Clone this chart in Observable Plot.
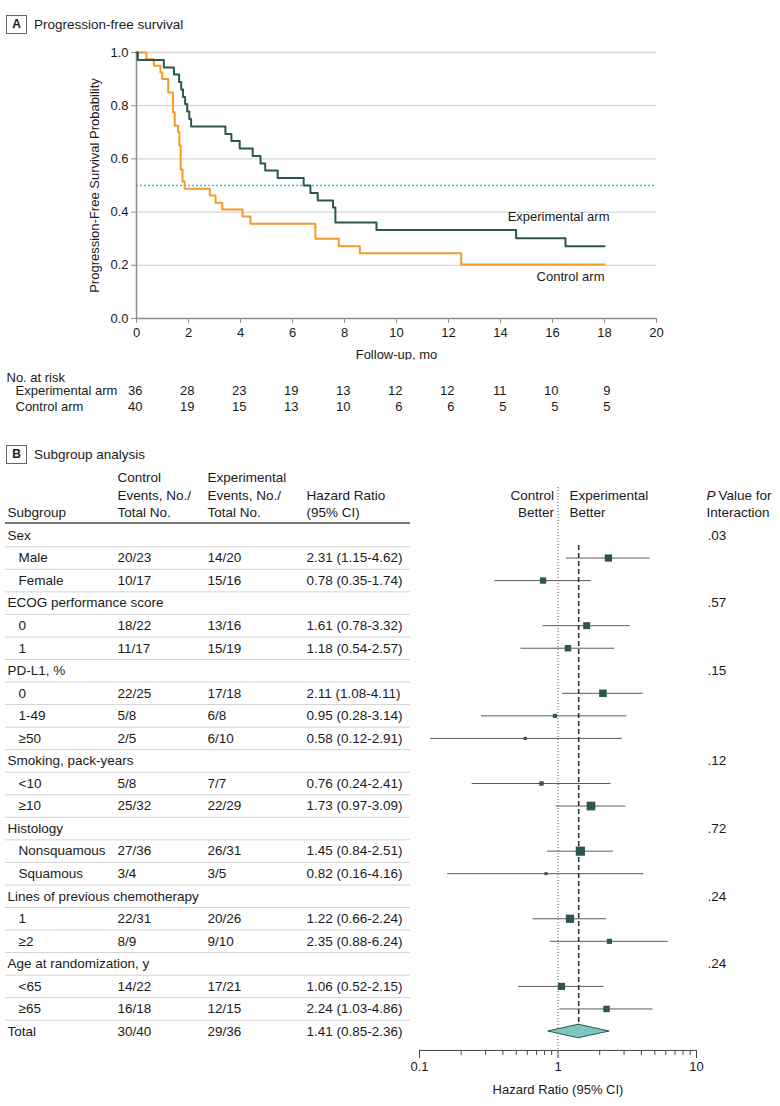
<!DOCTYPE html>
<html><head><meta charset="utf-8">
<script src="https://cdn.jsdelivr.net/npm/d3@7"></script>
<script src="https://cdn.jsdelivr.net/npm/@observablehq/plot@0.6"></script>
<style>
body{margin:0;background:#fff;font-family:"Liberation Sans",Arial,sans-serif;color:#1a1a1a}
#wrap{position:relative;width:780px;height:1106px;overflow:hidden}
.box{position:absolute;width:19px;height:17px;border:1px solid #666;font-weight:bold;font-size:12px;text-align:center;line-height:17px}
.ptitle{position:absolute;font-size:13.5px;line-height:18px}
.pl{position:absolute;left:0}
</style></head><body><div id="wrap">
<div class="box" style="left:6px;top:15px">A</div>
<div class="ptitle" style="left:34px;top:16px">Progression-free survival</div>
<div class="box" style="left:6px;top:445px">B</div>
<div class="ptitle" style="left:34px;top:446px">Subgroup analysis</div>
<div id="pa" class="pl" style="top:0"></div>
<div id="pr" class="pl" style="top:355px"></div>
<div id="pb" class="pl" style="top:440px"></div>
</div>
<script>
// ---------- Panel A data ----------
const expTime = [0, 0.05, 1.05, 1.44, 1.64, 1.72, 1.79, 1.87, 1.95, 2.03, 2.10, 3.42, 3.65, 3.97, 4.47, 4.77, 4.95, 5.43, 6.43, 6.69, 6.97, 7.56, 7.65, 9.23, 14.6, 16.5, 18];
const expSurv = [1, .972, .944, .917, .889, .861, .833, .806, .778, .750, .722, .694, .667, .639, .611, .583, .556, .528, .500, .472, .444, .417, .361, .333, .302, .272, .272];
const ctrlTime = [0, 0.38, 0.67, 0.92, 0.99, 1.22, 1.40, 1.47, 1.60, 1.65, 1.70, 1.77, 1.85, 2.82, 3.04, 3.30, 4.08, 4.38, 6.88, 7.78, 8.59, 12.49, 18];
const ctrlSurv = [1, .975, .95, .925, .90, .85, .775, .725, .70, .65, .56, .515, .488, .462, .435, .41, .383, .356, .30, .272, .245, .203, .203];
const medianLine = 0.5;
const xTicks = [0, 2, 4, 6, 8, 10, 12, 14, 16, 18, 20];
const yTicks = [0, 0.2, 0.4, 0.6, 0.8, 1.0];
const arms = ["Experimental arm", "Control arm"];
const riskTime = [0, 2, 4, 6, 8, 10, 12, 14, 16, 18];
const riskExp = [36, 28, 23, 19, 13, 12, 12, 11, 10, 9];
const riskCtrl = [40, 19, 15, 13, 10, 6, 6, 5, 5, 5];

// ---------- Panel B data ----------
const rowLabel = ["Sex","Male","Female","ECOG performance score","0","1","PD-L1, %","0","1-49","≥50","Smoking, pack-years","<10","≥10","Histology","Nonsquamous","Squamous","Lines of previous chemotherapy","1","≥2","Age at randomization, y","<65","≥65","Total"];
const rowIsSub = [0,1,1,0,1,1,0,1,1,1,0,1,1,0,1,1,0,1,1,0,1,1,0];
const ctrlEvents = ["","20/23","10/17","","18/22","11/17","","22/25","5/8","2/5","","5/8","25/32","","27/36","3/4","","22/31","8/9","","14/22","16/18","30/40"];
const expEvents = ["","14/20","15/16","","13/16","15/19","","17/18","6/8","6/10","","7/7","22/29","","26/31","3/5","","20/26","9/10","","17/21","12/15","29/36"];
const hr = [null,2.31,0.78,null,1.61,1.18,null,2.11,0.95,0.58,null,0.76,1.73,null,1.45,0.82,null,1.22,2.35,null,1.06,2.24,1.41];
const hrLo = [null,1.15,0.35,null,0.78,0.54,null,1.08,0.28,0.12,null,0.24,0.97,null,0.84,0.16,null,0.66,0.88,null,0.52,1.03,0.85];
const hrHi = [null,4.62,1.74,null,3.32,2.57,null,4.11,3.14,2.91,null,2.41,3.09,null,2.51,4.16,null,2.24,6.24,null,2.15,4.86,2.36];
const pInter = [".03","","",".57","","",".15","","","",".12","","",".72","","",".24","","",".24","","",""];
const hrMajorTicks = [0.1, 1, 10];
const hrMinorTicks = [0.2,0.3,0.4,0.5,0.6,0.7,0.8,0.9,2,3,4,5,6,7,8,9];

const FONT = '"Liberation Sans", Arial, sans-serif';
const TEAL = "#2b5753", ORANGE = "#f39a2b", INK = "#1a1a1a";

// ---------- Panel A ----------
const expData = expTime.map((t, i) => ({t, s: expSurv[i]}));
const ctrlData = ctrlTime.map((t, i) => ({t, s: ctrlSurv[i]}));
const pa = Plot.plot({
  width: 780, height: 360, marginTop: 52, marginBottom: 42, marginLeft: 136, marginRight: 124,
  style: {fontFamily: FONT, fontSize: "13px", color: INK, background: "transparent"},
  x: {domain: [0, 20]},
  y: {domain: [0, 1]},
  marks: [
    Plot.ruleY(yTicks.filter(d => d > 0), {stroke: "#d6d6d6", strokeWidth: 1.3}),
    Plot.ruleY([medianLine], {stroke: "#22cde0", strokeDasharray: "2,2", strokeWidth: 1.4}),
    Plot.ruleX([0], {stroke: "#8c8c8c", strokeWidth: 1.5}),
    Plot.ruleY([0], {stroke: "#8c8c8c", strokeWidth: 1.5}),
    Plot.axisY({ticks: yTicks, tickFormat: d3.format(".1f"), tickSize: 5, tickPadding: 3, stroke: "#8c8c8c", fontSize: 13, fill: INK,
      label: "Progression-Free Survival Probability", labelAnchor: "center", labelOffset: 47, labelArrow: false}),
    Plot.axisX({ticks: xTicks, tickSize: 5, tickPadding: 4, stroke: "#8c8c8c", fontSize: 13, fill: INK,
      label: "Follow-up, mo", labelAnchor: "center", labelOffset: 40, labelArrow: false}),
    Plot.line(ctrlData, {x: "t", y: "s", curve: "step-after", stroke: ORANGE, strokeWidth: 2}),
    Plot.line(expData, {x: "t", y: "s", curve: "step-after", stroke: TEAL, strokeWidth: 2}),
    Plot.text([expData[expData.length - 1]], {x: "t", y: "s", text: () => arms[0], textAnchor: "end", dx: 5, dy: -29, fontSize: 13, fill: INK}),
    Plot.text([ctrlData[ctrlData.length - 1]], {x: "t", y: "s", text: () => arms[1], textAnchor: "end", dx: 0, dy: 12, fontSize: 13, fill: INK})
  ]
});
document.getElementById("pa").appendChild(pa);

// ---------- Number at risk ----------
const riskData = riskTime.map((t, i) => ({t, arm: arms[0], n: riskExp[i]}))
  .concat(riskTime.map((t, i) => ({t, arm: arms[1], n: riskCtrl[i]})));
const pr = Plot.plot({
  width: 780, height: 60, marginLeft: 136, marginRight: 124, marginTop: 0, marginBottom: 0,
  style: {fontFamily: FONT, fontSize: "13px", color: INK, background: "transparent"},
  x: {domain: [0, 20], axis: null},
  y: {type: "point", domain: arms, range: [35, 51], padding: 0, axis: null},
  marks: [
    Plot.text(riskData, {x: "t", y: "arm", text: "n", textAnchor: "end", dx: 6, fontSize: 13, fill: INK}),
    Plot.text(arms, {y: d => d, text: d => d, frameAnchor: "left", textAnchor: "start", dx: -121, fontSize: 13, fill: INK}),
    Plot.text(["No. at risk"], {frameAnchor: "top-left", textAnchor: "start", dx: -130, dy: 17, fontSize: 13, fill: INK})
  ]
});
document.getElementById("pr").appendChild(pr);

// ---------- Panel B ----------
const rows = rowLabel.map((label, i) => ({
  i, label, sub: rowIsSub[i], c: ctrlEvents[i], e: expEvents[i], hr: hr[i], lo: hrLo[i], hi: hrHi[i], p: pInter[i],
  hrText: hr[i] == null ? "" : `${hr[i].toFixed(2)} (${hrLo[i].toFixed(2)}-${hrHi[i].toFixed(2)})`,
  w: hr[i] == null ? 0 : 1 / Math.pow(Math.log(hrHi[i] / hrLo[i]) / 3.92, 2)
}));
const nRows = rows.length;
const totalIdx = nRows - 1;
const est = rows.filter(d => d.hr != null && d.i !== totalIdx);
const tot = rows[totalIdx];
const maxW = d3.max(est, d => d.w);
const diamond = [
  {y: totalIdx - 0.3, x1: tot.hr, x2: tot.hr},
  {y: totalIdx, x1: tot.lo, x2: tot.hi},
  {y: totalIdx + 0.3, x1: tot.hr, x2: tot.hr}
];
const H1 = -2.573, H2 = -1.774, H3 = -1.02;
const L = 419; // frame left edge (page px) used for column offsets
const txt = (data, opts) => Plot.text(data, {fontSize: 13.5, fill: INK, textAnchor: "start", ...opts});
const head = (lines, xOff) => txt(lines.map((t, k) => ({t, y: [H1, H2, H3][3 - lines.length + k]})), {y: "y", text: "t", frameAnchor: "left", dx: xOff - L});

const pb = Plot.plot({
  width: 780, height: 666, marginLeft: 419, marginRight: 84, marginTop: 10, marginBottom: 56,
  style: {fontFamily: FONT, fontSize: "13px", color: INK, background: "transparent"},
  x: {type: "log", domain: [0.1, 10]},
  y: {domain: [0, nRows - 1], range: [95, 591], axis: null},
  r: {domain: [0, maxW], range: [0, 5.2]},
  marks: [
    // table headers
    head(["Subgroup"], 7),
    head(["Control", "Events, No./", "Total No."], 117),
    head(["Experimental", "Events, No./", "Total No."], 207),
    head(["Hazard Ratio", "(95% CI)"], 306),
    Plot.text(["Control", "Better"], {x: () => 1, y: (d, k) => [H2, H3][k], text: d => d, textAnchor: "end", dx: -4, fontSize: 13.5, fill: INK}),
    Plot.text(["Experimental", "Better"], {x: () => 1, y: (d, k) => [H2, H3][k], text: d => d, textAnchor: "start", dx: 11.5, fontSize: 13.5, fill: INK}),
    Plot.text(["P"], {y: () => H2, text: d => d, frameAnchor: "right", textAnchor: "start", dx: 10, fontSize: 13.5, fontStyle: "italic", fill: INK}),
    Plot.text(["Value for"], {y: () => H2, text: d => d, frameAnchor: "right", textAnchor: "start", dx: 22, fontSize: 13.5, fill: INK}),
    Plot.text(["Interaction"], {y: () => H3, text: d => d, frameAnchor: "right", textAnchor: "start", dx: 10, fontSize: 13.5, fill: INK}),
    // rules in table
    Plot.ruleY([-0.554], {stroke: "#4a4a4a", strokeWidth: 1.6, insetLeft: -(L - 5), insetRight: 696 - 410}),
    Plot.ruleY(d3.range(0, nRows - 1).map(k => k + 0.5), {stroke: "#d2d2d2", strokeWidth: 1, insetLeft: -(L - 5), insetRight: 696 - 410}),
    // table body
    txt(rows.filter(d => !d.sub), {y: "i", text: "label", frameAnchor: "left", dx: 7 - L}),
    txt(rows.filter(d => d.sub), {y: "i", text: "label", frameAnchor: "left", dx: 18 - L}),
    txt(rows, {y: "i", text: "c", frameAnchor: "left", dx: 117 - L}),
    txt(rows, {y: "i", text: "e", frameAnchor: "left", dx: 207 - L}),
    txt(rows, {y: "i", text: "hrText", frameAnchor: "left", dx: 306 - L}),
    txt(rows, {y: "i", text: "p", frameAnchor: "right", dx: 11}),
    // forest
    Plot.ruleX([1], {y1: -2.13, y2: 22.84, stroke: "#555", strokeDasharray: "1,2", strokeWidth: 1}),
    Plot.ruleY(est, {y: "i", x1: "lo", x2: "hi", stroke: "#5a5a5a", strokeWidth: 1}),
    Plot.ruleX([tot.hr], {y1: 0.44, y2: totalIdx - 0.3, stroke: "#333", strokeDasharray: "5,3", strokeWidth: 1.6}),
    Plot.dot(est, {x: "hr", y: "i", r: "w", symbol: "square", fill: TEAL, stroke: null}),
    Plot.areaX(diamond, {y: "y", x1: "x1", x2: "x2", fill: "#7ec6c1", stroke: TEAL, strokeWidth: 1}),
    // x axis
    Plot.ruleY([22.84], {stroke: "#444", strokeWidth: 1}),
    Plot.axisX({ticks: hrMinorTicks, tickFormat: () => "", tickSize: 5, stroke: "#444"}),
    Plot.axisX({ticks: hrMajorTicks, tickFormat: d => String(d), tickSize: 8, tickPadding: 3, stroke: "#444", fontSize: 13, fill: INK,
      label: "Hazard Ratio (95% CI)", labelAnchor: "center", labelOffset: 43, labelArrow: false})
  ]
});
document.getElementById("pb").appendChild(pb);
</script>
</body></html>
